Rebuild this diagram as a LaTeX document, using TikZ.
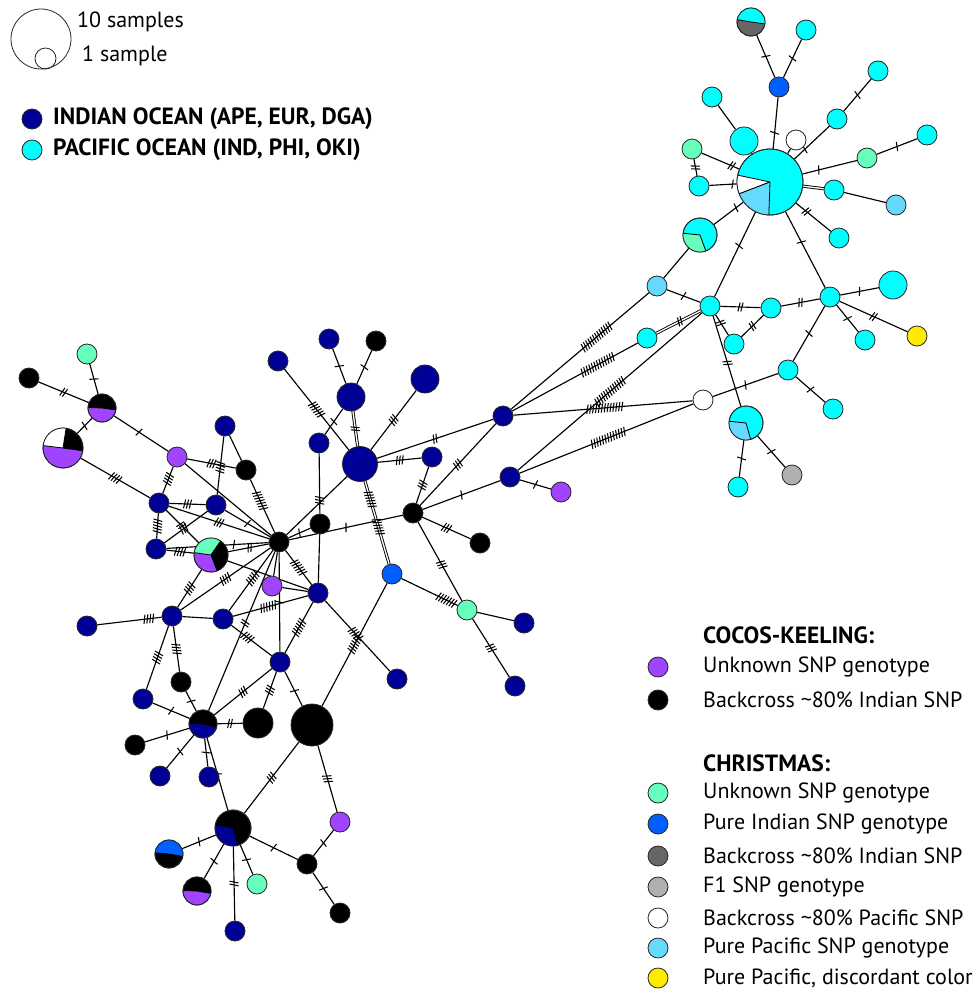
\documentclass[tikz,border=0pt]{standalone}
\usepackage{fontspec}
\setmainfont{PT Sans}
\usetikzlibrary{decorations.markings,backgrounds}
\definecolor{navy}{RGB}{0,0,150}
\definecolor{cyanc}{RGB}{0,255,255}
\definecolor{purp}{RGB}{160,68,255}
\definecolor{mint}{RGB}{102,255,187}
\definecolor{pblue}{RGB}{0,96,255}
\definecolor{dgray}{RGB}{102,102,102}
\definecolor{lgray}{RGB}{176,176,176}
\definecolor{lblue}{RGB}{102,217,255}
\definecolor{yel}{RGB}{255,236,0}
\tikzset{
  nd/.style={circle,draw=black!85,line width=0.8pt,inner sep=0pt,minimum size=20pt},
  mk/.style 2 args={postaction={decorate,decoration={markings,mark=at position #2 with {\foreach \k in {1,...,#1}{\draw[line width=1.05pt] ({(\k-(#1+1)/2)*2.9pt-1pt},-4.5pt) -- ++(2pt,9pt);}}}}},
  edge/.style={line width=1.15pt},
  dedge/.style={line width=0.9pt,double,double distance=1.3pt},
  lab/.style={anchor=west,inner sep=0pt,font=\fontsize{22}{26}\selectfont},
  blab/.style={anchor=west,inner sep=0pt,font=\fontsize{23.5}{27}\selectfont\bfseries}
}
\newcommand\ed[4][0.5]{\draw[edge] (#2)--(#3); \ifnum#4>0 \path[mk={#4}{#1}] (#2)--(#3);\fi}
\newcommand\edd[4][0.5]{\draw[dedge] (#2)--(#3); \ifnum#4>0 \path[mk={#4}{#1}] (#2)--(#3);\fi}
% pie: name, position, radius, base colour, wedges a/b/colour
\newcommand\pie[5]{%
  \node[nd,minimum size=#3*2pt,fill=#4] (#1) at (#2) {};
  \foreach \a/\b/\c in {#5}{%
    \fill[\c] (#1.center) -- ++(\a:#3pt) arc[start angle=\a,end angle=\b,radius=#3pt] -- cycle;
    \draw[line width=0.8pt] (#1.center) -- ++(\a:#3pt) (#1.center) -- ++(\b:#3pt);}
  \draw[line width=0.8pt,black!85] (#1.center) circle[radius=#3pt];
}
\begin{document}
\begin{tikzpicture}[x=1pt,y=-1pt]
\useasboundingbox (0,0) rectangle (980,991);

% ---------- legends ----------
\node[nd,minimum size=60pt] (big) at (41,39) {};
\node[nd,minimum size=21pt] (small) at (45.5,58.5) {};
\node[lab] (t10) at (77,22) {10 samples};
\node[lab] (t1) at (82,56) {1 sample};
\node[nd,fill=navy] (lio) at (32,119) {};
\node[nd,fill=cyanc] (lpo) at (32,150) {};
\node[blab] (tio) at (53,119) {INDIAN OCEAN (APE, EUR, DGA)};
\node[blab] (tpo) at (53,150) {PACIFIC OCEAN (IND, PHI, OKI)};

\node[blab] (hck) at (703,635) {COCOS-KEELING:};
\node[nd,fill=purp] (l1) at (658,667) {};
\node[lab] (tl1) at (703,667) {Unknown SNP genotype};
\node[nd,fill=black] (l2) at (658,700) {};
\node[lab] (tl2) at (703,700) {Backcross \textasciitilde80\% Indian SNP};
\node[blab] (hch) at (703,763) {CHRISTMAS:};
\node[nd,fill=mint] (l3) at (658,793) {};
\node[lab] (tl3) at (703,793) {Unknown SNP genotype};
\node[nd,fill=pblue] (l4) at (658,824) {};
\node[lab] (tl4) at (703,824) {Pure Indian SNP genotype};
\node[nd,fill=dgray] (l5) at (658,856) {};
\node[lab] (tl5) at (703,856) {Backcross \textasciitilde80\% Indian SNP};
\node[nd,fill=lgray] (l6) at (658,887) {};
\node[lab] (tl6) at (703,887) {F1 SNP genotype};
\node[nd,fill=white] (l7) at (658,918) {};
\node[lab] (tl7) at (703,918) {Backcross \textasciitilde80\% Pacific SNP};
\node[nd,fill=lblue] (l8) at (658,948) {};
\node[lab] (tl8) at (703,948) {Pure Pacific SNP genotype};
\node[nd,fill=yel] (l9) at (658,978) {};
\node[lab] (tl9) at (703,978) {Pure Pacific, discordant color};

% ---------- left network nodes ----------
\node[nd,fill=mint] (g1) at (87,354) {};
\node[nd,fill=black] (k1) at (29,378) {};
\pie{pBP}{102,408}{14}{purp}{-8/178/black}
\pie{pWBP}{63,448}{20}{purp}{-8/81/black,81/173/white}
\node[nd,fill=purp] (u1) at (177,457) {};
\node[nd,fill=navy] (n1) at (225,426) {};
\node[nd,fill=black] (k2) at (246,470) {};
\node[nd,fill=navy] (n2) at (278,361) {};
\node[nd,fill=navy] (n3) at (319,443) {};
\node[nd,fill=navy] (n4) at (159,503) {};
\node[nd,fill=navy] (n5) at (216,505) {};
\node[nd,fill=navy] (n6) at (156,549) {};
\pie{pGBK}{211,555}{17}{purp}{55/172/mint,-69/55/black}
\node[nd,fill=black] (H) at (279,542) {};
\node[nd,fill=black] (k3) at (320,524) {};
\node[nd,fill=purp] (u2) at (272,586) {};
\node[nd,fill=navy] (n7) at (318,593) {};
\node[nd,fill=navy] (n8) at (87,626) {};
\node[nd,fill=navy] (n9) at (172,616) {};
\node[nd,fill=navy] (n10) at (223,619) {};
\node[nd,fill=navy] (n11) at (329,339) {};
\node[nd,fill=black] (k4) at (376,341) {};
\node[nd,fill=navy,minimum size=28pt] (n12) at (351,397) {};
\node[nd,fill=navy,minimum size=28pt] (n13) at (425,379) {};
\node[nd,fill=navy,minimum size=35pt] (N) at (360,464) {};
\node[nd,fill=navy] (n14) at (432,457) {};
\node[nd,fill=navy] (n15) at (503,416) {};
\node[nd,fill=navy] (n16) at (510,477) {};
\node[nd,fill=black] (k5) at (413,513) {};
\node[nd,fill=black] (k6) at (480,543) {};
\node[nd,fill=pblue] (b1) at (392,574) {};
\node[nd,fill=mint] (g2) at (467,610) {};
\node[nd,fill=navy] (n17) at (524,623) {};
\node[nd,fill=navy] (n18) at (515,686) {};
\node[nd,fill=navy] (n19) at (280,662) {};
\node[nd,fill=navy] (n20) at (397,679) {};
\node[nd,fill=black] (k7) at (181,682) {};
\node[nd,fill=navy] (n21) at (143,699) {};
\pie{pKN1}{203,724}{14}{navy}{-12/176/black}
\node[nd,fill=black,minimum size=30pt] (k8) at (258,723) {};
\node[nd,fill=black,minimum size=42pt] (K) at (312,725) {};
\node[nd,fill=black] (k9) at (135,745) {};
\node[nd,fill=navy] (n22) at (160,776) {};
\node[nd,fill=navy] (n23) at (209,777) {};
\pie{pKN2}{233,828}{18}{black}{170/285/navy}
\node[nd,fill=purp] (u3) at (340,822) {};
\pie{pBK}{169,854}{14}{black}{-10/175/pblue}
\node[nd,fill=black] (k10) at (307,864) {};
\pie{pKU}{197,891}{14}{purp}{-10/178/black}
\node[nd,fill=mint] (g3) at (257,884) {};
\node[nd,fill=black] (k11) at (340,913) {};
\node[nd,fill=navy] (n24) at (235,931) {};
\node[nd,fill=purp] (u4) at (561,492) {};

% ---------- right network nodes ----------
\pie{pCG}{751,22}{14}{dgray}{-8/170/cyanc}
\node[nd,fill=cyanc] (c1) at (806,30) {};
\node[nd,fill=pblue] (b2) at (779,87) {};
\node[nd,fill=cyanc] (c2) at (878,71) {};
\node[nd,fill=cyanc] (c3) at (712,97) {};
\node[nd,fill=cyanc,minimum size=28pt] (c4) at (744,141) {};
\node[nd,fill=white] (w1) at (796,140) {};
\node[nd,fill=cyanc] (c5) at (837,119) {};
\node[nd,fill=cyanc] (c6) at (927,135) {};
\node[nd,fill=mint] (g4) at (692,149) {};
\node[nd,fill=mint] (g5) at (867,158) {};
\pie{P}{770,182}{33}{cyanc}{168/201/white,201/268/lblue}
\node[nd,fill=cyanc] (c7) at (699,186) {};
\node[nd,fill=cyanc] (c8) at (834,190) {};
\node[nd,fill=lblue] (lb1) at (896,205) {};
\node[nd,fill=cyanc] (c9) at (839,238) {};
\pie{pCGr}{700,235}{17}{cyanc}{174/290/mint}
\node[nd,fill=lblue] (lb2) at (657,286) {};
\node[nd,fill=cyanc] (c10) at (710,306) {};
\node[nd,fill=cyanc] (c11) at (771,308) {};
\node[nd,fill=cyanc] (c12) at (830,297) {};
\node[nd,fill=cyanc,minimum size=28pt] (c13) at (893,285) {};
\node[nd,fill=cyanc] (c14) at (647,338) {};
\node[nd,fill=cyanc] (c15) at (734,344) {};
\node[nd,fill=cyanc] (c16) at (865,340) {};
\node[nd,fill=yel] (y1) at (917,336) {};
\node[nd,fill=cyanc] (c17) at (788,370) {};
\node[nd,fill=white] (w2) at (703,400) {};
\pie{pCL}{746,423}{17}{cyanc}{174/286/lblue}
\node[nd,fill=cyanc] (c18) at (833,409) {};
\node[nd,fill=lgray] (gr1) at (792,475) {};
\node[nd,fill=cyanc] (c19) at (738,487) {};

% ---------- connectors ----------
\begin{pgfonlayer}{background}
\ed{g1}{pBP}{1}
\ed{k1}{pBP}{2}
\ed{pBP}{pWBP}{1}
\ed[0.46]{pBP}{u1}{1}
\ed{pWBP}{n4}{4}
\ed[0.46]{u1}{n4}{4}
\ed{u1}{k2}{3}
\ed{u1}{H}{0}
\ed{n1}{k2}{0}
\ed[0.53]{n1}{n5}{4}
\ed[0.4]{k2}{H}{7}
\ed{n4}{n5}{3}
\ed{n4}{n6}{5}
\ed{n4}{H}{3}
\ed[0.46]{n4}{pGBK}{2}
\ed[0.45]{n6}{n5}{3}
\ed{n5}{H}{1}
\ed{n6}{pGBK}{4}
\ed[0.66]{n6}{H}{1}
\ed[0.53]{pGBK}{H}{2}
\ed{pGBK}{n7}{0}
\ed[0.8]{n8}{n9}{4}
\ed{n9}{pGBK}{4}
\ed{n9}{H}{4}
\ed{n9}{n10}{0}
\ed[0.54]{n10}{H}{5}
\ed[0.47]{n10}{n7}{6}
\ed[0.4]{n10}{n19}{4}
\ed{H}{n7}{6}
\ed{H}{u2}{0}
\ed{u2}{n7}{0}
\ed{H}{n19}{1}
\ed{H}{k3}{1}
\ed{H}{k5}{1}
\ed{H}{N}{0}
\ed[0.78]{n3}{k3}{3}
\ed{k3}{n7}{0}
\ed{n12}{n3}{1}
\ed{n12}{n11}{1}
\ed{n12}{k4}{1}
\edd{n12}{N}{2}
\ed{n2}{N}{6}
\ed{n13}{N}{3}
\ed{N}{n14}{3}
\ed{N}{n15}{2}
\ed{k5}{n14}{3}
\ed{k5}{n15}{3}
\ed{k5}{n16}{1}
\ed{k5}{k6}{3}
\ed[0.54]{k5}{g2}{3}
\draw[dedge] (N)--(b1);
\path[mk={6}{0.22}] (N)--(b1);
\path[mk={6}{0.55}] (N)--(b1);
\ed[0.8]{b1}{g2}{7}
\ed{b1}{K}{6}
\ed{g2}{n17}{0}
\ed{g2}{n18}{3}
\ed[0.47]{n7}{n20}{5}
\ed{n7}{n19}{6}
\ed{n9}{n21}{4}
\ed{n9}{k7}{4}
\ed{k7}{pKN1}{1}
\ed{n21}{pKN1}{1}
\ed{k9}{pKN1}{1}
\ed{n22}{pKN1}{1}
\ed{n23}{pKN1}{1}
\ed{pKN1}{k8}{2}
\ed{pKN1}{n19}{3}
\ed[0.45]{H}{pKN1}{2}
\ed{k8}{n19}{3}
\ed[0.44]{K}{n19}{1}
\ed{pKN1}{pKN2}{1}
\ed{K}{pKN2}{3}
\ed{K}{u3}{3}
\ed{pKN2}{pBK}{1}
\ed{pKN2}{pKU}{1}
\ed{pKN2}{n24}{2}
\ed{pKN2}{g3}{1}
\ed{pKN2}{k10}{1}
\ed{k10}{u3}{1}
\ed{k10}{k11}{1}
% between clusters
\ed[0.62]{n15}{lb2}{13}
\ed[0.68]{n15}{c14}{13}
\ed[0.51]{n15}{w2}{13}
\ed[0.5]{n16}{c10}{13}
\ed[0.51]{n16}{w2}{13}
\ed{n16}{u4}{1}
% right cluster
\ed{pCG}{b2}{1}
\ed{c1}{b2}{1}
\ed[0.69]{b2}{P}{1}
\ed{c3}{c4}{0}
\ed{c4}{P}{0}
\ed{w1}{P}{0}
\ed[0.3]{P}{c5}{1}
\ed{c5}{c2}{1}
\ed[0.8]{g4}{P}{2}
\ed{g4}{c7}{2}
\ed[0.85]{c7}{P}{1}
\ed[0.3]{P}{g5}{1}
\ed{g5}{c6}{1}
\edd{P}{c8}{0}
\ed{c8}{lb1}{0}
\ed[0.3]{P}{c9}{2}
\ed[0.25]{P}{pCGr}{1}
\ed[0.4]{P}{c10}{1}
\ed[0.4]{P}{c12}{1}
\ed{pCGr}{lb2}{0}
\ed{lb2}{c10}{1}
\ed{c10}{c11}{2}
\ed{c11}{c12}{2}
\ed{c12}{c13}{1}
\ed{c12}{c16}{1}
\ed{c12}{y1}{2}
\ed{c12}{c17}{1}
\ed{c11}{c15}{2}
\ed[0.4]{c10}{c15}{2}
\edd[0.47]{c10}{c14}{2}
\ed[0.52]{c10}{pCL}{2}
\ed{c17}{w2}{1}
\ed{c17}{c18}{1}
\ed{pCL}{c19}{1}
\ed{pCL}{gr1}{1}
\end{pgfonlayer}
\end{tikzpicture}
\end{document}
